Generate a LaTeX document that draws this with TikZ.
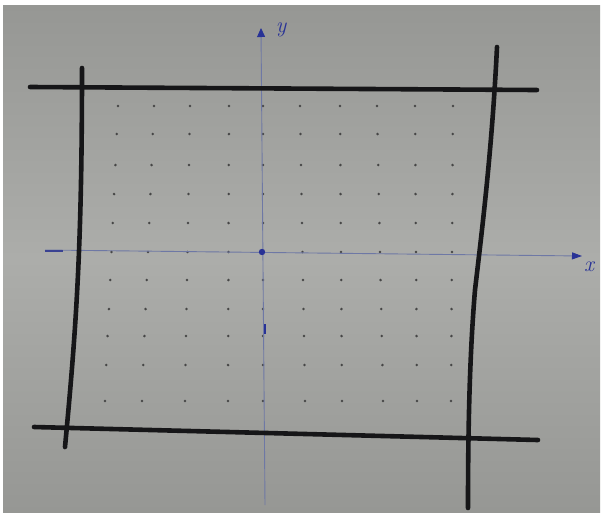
\documentclass[tikz,border=0pt]{standalone}
\usetikzlibrary{arrows.meta}
\definecolor{paper}{RGB}{150,151,148}
\definecolor{paperlight}{RGB}{172,173,170}
\definecolor{ink}{RGB}{22,22,24}
\definecolor{pen}{RGB}{40,50,150}
\definecolor{penlight}{RGB}{110,120,165}
\definecolor{dotc}{RGB}{70,70,70}
\tikzset{
  frameline/.style={ink, line width=4.6pt, line cap=round},
  axisline/.style={penlight, line width=0.9pt},
  gdot/.style={dotc},
  lbl/.style={pen, font=\fontsize{22}{22}\selectfont\itshape, inner sep=0pt}
}
\begin{document}
\begin{tikzpicture}[x=1pt,y=-1pt]
\useasboundingbox (0,0) rectangle (603,515);
\fill[white] (0,0) rectangle (603,515);
\shade[top color=paper, bottom color=paper, middle color=paperlight] (3,5) rectangle (600,512);
% dot grid
\foreach \r/\yy in {0/106,1/134,2/165,3/194,4/223,5/252,6/280,7/309,8/336,9/365,10/401}{
  \foreach \xt/\xb in {118/105,154/142,190/185,229/228,263/263,300/305,340/342,377/383,415/417,453/451}{
    \pgfmathsetmacro{\xx}{\xt+(\xb-\xt)*\r/10}
    \fill[gdot] (\xx,\yy) circle[radius=1.4];
  }
}
% axes
\coordinate (yb) at (265,505);
\coordinate (yt) at (261,28);
\coordinate (xl) at (45,250);
\coordinate (xr) at (582,256);
\draw[axisline,-{Triangle[width=8pt,length=9pt,color=pen,fill=pen]}] (yb) -- (yt);
\draw[axisline,-{Triangle[width=7pt,length=10pt,color=pen,fill=pen]}] (xl) -- (xr);
\draw[pen!80!gray, line width=2.2pt] (45,251) -- (63,251);
\draw[pen, line width=1.8pt] (265,324) -- (265,334);
\fill[pen] (262,252) circle[radius=3.2];
\node[lbl] (ylabel) at (281,30) {y};
\node[lbl] (xlabel) at (589,267) {x};
% frame
\draw[frameline] (30,87) -- (537,90);
\draw[frameline] (34,427) -- (538,440);
\draw[frameline] (82,68) .. controls (82,250) and (76,330) .. (65,447);
\draw[frameline] (497,47) .. controls (492,150) and (482,230) .. (475,290) .. controls (470,350) and (468,420) .. (468,508);
\end{tikzpicture}
\end{document}
